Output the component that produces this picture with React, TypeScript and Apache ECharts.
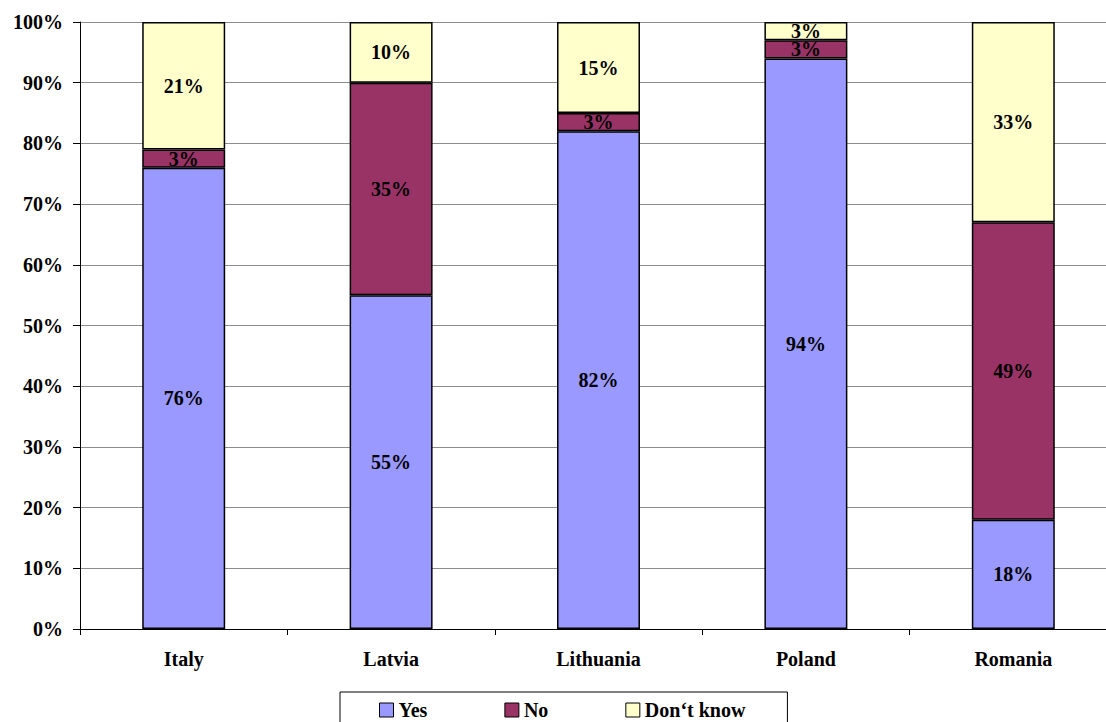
import React, { useEffect, useRef } from "react";
import * as echarts from "echarts";

const categories = ["Italy", "Latvia", "Lithuania", "Poland", "Romania"];
const yesValues = [76, 55, 82, 94, 18];
const noValues = [3, 35, 3, 3, 49];
const dontKnowValues = [21, 10, 15, 3, 33];
const seriesNames = ["Yes", "No", "Don\u2018t know"];
const seriesColors = ["#9999FF", "#993366", "#FFFFCC"];

const FONT = "'Liberation Serif', 'Times New Roman', serif";

export default function App() {
  const ref = useRef<HTMLDivElement>(null);
  useEffect(() => {
    document.body.style.margin = "0";
    const chart = echarts.init(ref.current!, undefined, { renderer: "svg" });
    const dataSets = [yesValues, noValues, dontKnowValues];
    chart.setOption({
      animation: false,
      grid: { left: 80, right: 0, top: 22, bottom: 93, containLabel: false },
      legend: {
        data: seriesNames,
        left: 340,
        top: 692,
        orient: "horizontal",
        itemWidth: 14,
        itemHeight: 14,
        itemGap: 77,
        icon: "rect",
        borderColor: "#000",
        borderWidth: 1,
        padding: [8, 42, 12, 39],
        textStyle: { fontFamily: FONT, fontWeight: "bold", fontSize: 20, color: "#000", padding: [0, 0, 0, 0] },
        itemStyle: { borderColor: "#000", borderWidth: 1 },
      },
      xAxis: {
        type: "category",
        data: categories,
        axisLine: { lineStyle: { color: "#000", width: 1 } },
        axisTick: { show: true, length: 6, lineStyle: { color: "#000" } },
        axisLabel: { fontFamily: FONT, fontWeight: "bold", fontSize: 20, color: "#000", margin: 20 },
      },
      yAxis: {
        type: "value",
        min: 0,
        max: 100,
        interval: 10,
        axisLine: { show: true, lineStyle: { color: "#000", width: 1 } },
        axisTick: { show: true, length: 7, lineStyle: { color: "#000" } },
        axisLabel: { formatter: "{value}%", fontFamily: FONT, fontWeight: "bold", fontSize: 20, color: "#000", margin: 17 },
        splitLine: { show: true, lineStyle: { color: "#8c8c8c", width: 1 } },
      },
      series: dataSets.map((d, i) => ({
        name: seriesNames[i],
        type: "bar",
        stack: "total",
        barWidth: "40%",
        data: d,
        itemStyle: { color: seriesColors[i], borderColor: "#000", borderWidth: 1.5 },
        label: {
          show: true,
          position: "inside",
          formatter: "{c}%",
          fontFamily: FONT,
          fontWeight: "bold",
          fontSize: 20,
          color: "#000",
        },
      })),
    });
    return () => chart.dispose();
  }, []);
  return (
    <div style={{ width: 1106, height: 722, overflow: "hidden", position: "relative" }}>
      <div ref={ref} style={{ width: 1117, height: 722 }} />
    </div>
  );
}
